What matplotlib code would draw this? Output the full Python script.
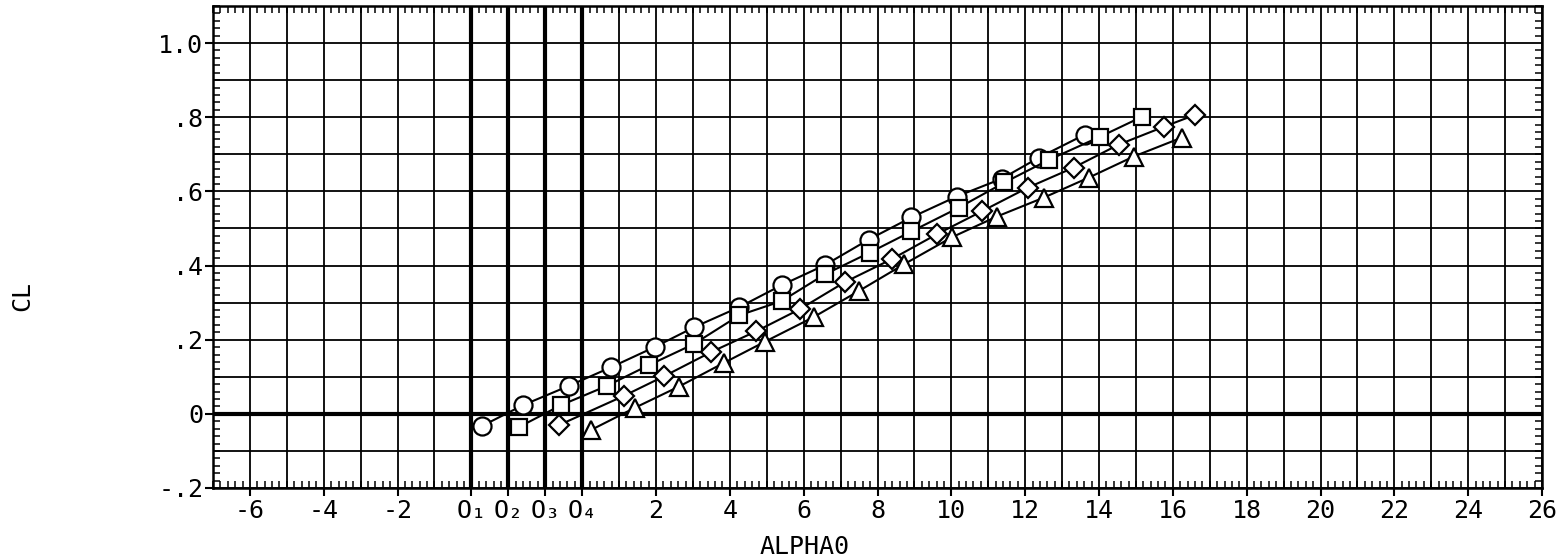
import numpy as np
import matplotlib
matplotlib.use("Agg")
import matplotlib.pyplot as plt
from matplotlib.ticker import MultipleLocator

plt.rcParams['font.family'] = ['DejaVu Sans Mono', 'DejaVu Sans']

# Staggered origins O1..O4 (in O1 units along the axis)
origins = [0, 1, 2, 3]

# Series 1 - circles (alpha relative to O1)
circle_alpha = [0.30, 1.41, 2.63, 3.79, 4.96, 6.04, 7.26, 8.40, 9.57, 10.76,
                11.92, 13.14, 14.36, 15.37, 16.61]
circle_cl = [-0.032, 0.024, 0.075, 0.126, 0.180, 0.234, 0.288, 0.347, 0.401, 0.470,
             0.530, 0.586, 0.634, 0.691, 0.753]

# Series 2 - squares (alpha relative to O2)
square_alpha = [0.30, 1.44, 2.66, 3.82, 5.02, 6.26, 7.40, 8.57, 9.79, 10.92,
                12.20, 13.44, 14.64, 16.02, 17.16]
square_cl = [-0.035, 0.024, 0.075, 0.132, 0.188, 0.266, 0.304, 0.376, 0.435, 0.492,
             0.556, 0.624, 0.685, 0.747, 0.801]

# Series 3 - diamonds (alpha relative to O3)
diamond_alpha = [0.38, 2.12, 3.23, 4.50, 5.72, 6.89, 8.11, 9.38, 10.60, 11.82,
                 13.07, 14.31, 15.53, 16.75, 17.59]
diamond_cl = [-0.030, 0.048, 0.102, 0.167, 0.223, 0.282, 0.355, 0.417, 0.484, 0.546,
              0.610, 0.664, 0.726, 0.774, 0.806]

# Series 4 - triangles (alpha relative to O4)
triangle_alpha = [0.25, 1.42, 2.61, 3.83, 4.94, 6.27, 7.49, 8.71, 10.01, 11.23,
                  12.50, 13.72, 14.94, 16.24]
triangle_cl = [-0.043, 0.016, 0.073, 0.137, 0.194, 0.261, 0.331, 0.403, 0.476, 0.532,
               0.583, 0.637, 0.694, 0.745]

# Axis labelling: negatives relative to O1, positives relative to O4
neg_ticks = [-6, -4, -2]
origin_labels = ['O\u2081', 'O\u2082', 'O\u2083', 'O\u2084']
pos_ticks = [2, 4, 6, 8, 10, 12, 14, 16, 18, 20, 22, 24, 26]
y_ticks = [-0.2, 0.0, 0.2, 0.4, 0.6, 0.8, 1.0]
y_labels = ['-.2', '0', '.2', '.4', '.6', '.8', '1.0']

W, H = 1557, 557
fig = plt.figure(figsize=(W / 100, H / 100), dpi=100)
ax = fig.add_axes([213 / W, 1 - 488 / H, (1542 - 213) / W, (488 - 6) / H])

ax.set_xlim(-7, 29)
ax.set_ylim(-0.2, 1.1)

# grid
for v in range(-7, 30):
    ax.axvline(v, color='black', lw=1.3, zorder=1)
for k in range(-2, 12):
    ax.axhline(k / 10, color='black', lw=1.3, zorder=1)
for o in origins:
    ax.axvline(o, color='black', lw=3.0, zorder=1)
ax.axhline(0, color='black', lw=3.0, zorder=1)

series = [
    (circle_alpha, circle_cl, 'o', 13),
    (square_alpha, square_cl, 's', 12),
    (diamond_alpha, diamond_cl, 'D', 10.5),
    (triangle_alpha, triangle_cl, '^', 13),
]
for (a, cl, m, ms), o in zip(series, origins):
    x = np.array(a) + o
    ax.plot(x, cl, color='black', lw=1.5, marker=m, ms=ms,
            mfc='white', mec='black', mew=1.6, zorder=3)

xt = neg_ticks + origins + [p + origins[3] for p in pos_ticks]
xl = [f"{t}" for t in neg_ticks] + origin_labels + [f"{t}" for t in pos_ticks]
ax.set_xticks(xt)
ax.set_xticklabels(xl)
ax.set_yticks(y_ticks)
ax.set_yticklabels(y_labels)
ax.xaxis.set_minor_locator(MultipleLocator(0.2))
ax.yaxis.set_minor_locator(MultipleLocator(0.02))

ax.tick_params(which='minor', direction='in', length=5, width=1.1,
               top=True, bottom=True, left=True, right=True)
ax.tick_params(which='major', direction='out', length=6, width=1.5,
               top=False, right=False, labelsize=18, pad=2)
ax.tick_params(axis='y', which='major', pad=1)

for s in ax.spines.values():
    s.set_linewidth(1.8)

fig.text(805 / W, 1 - 547 / H, 'ALPHA0', ha='center', va='center', fontsize=18)
fig.text(22 / W, 1 - 296 / H, 'CL', ha='center', va='center', fontsize=18,
         rotation=90)

fig.savefig('out.png', dpi=100)
